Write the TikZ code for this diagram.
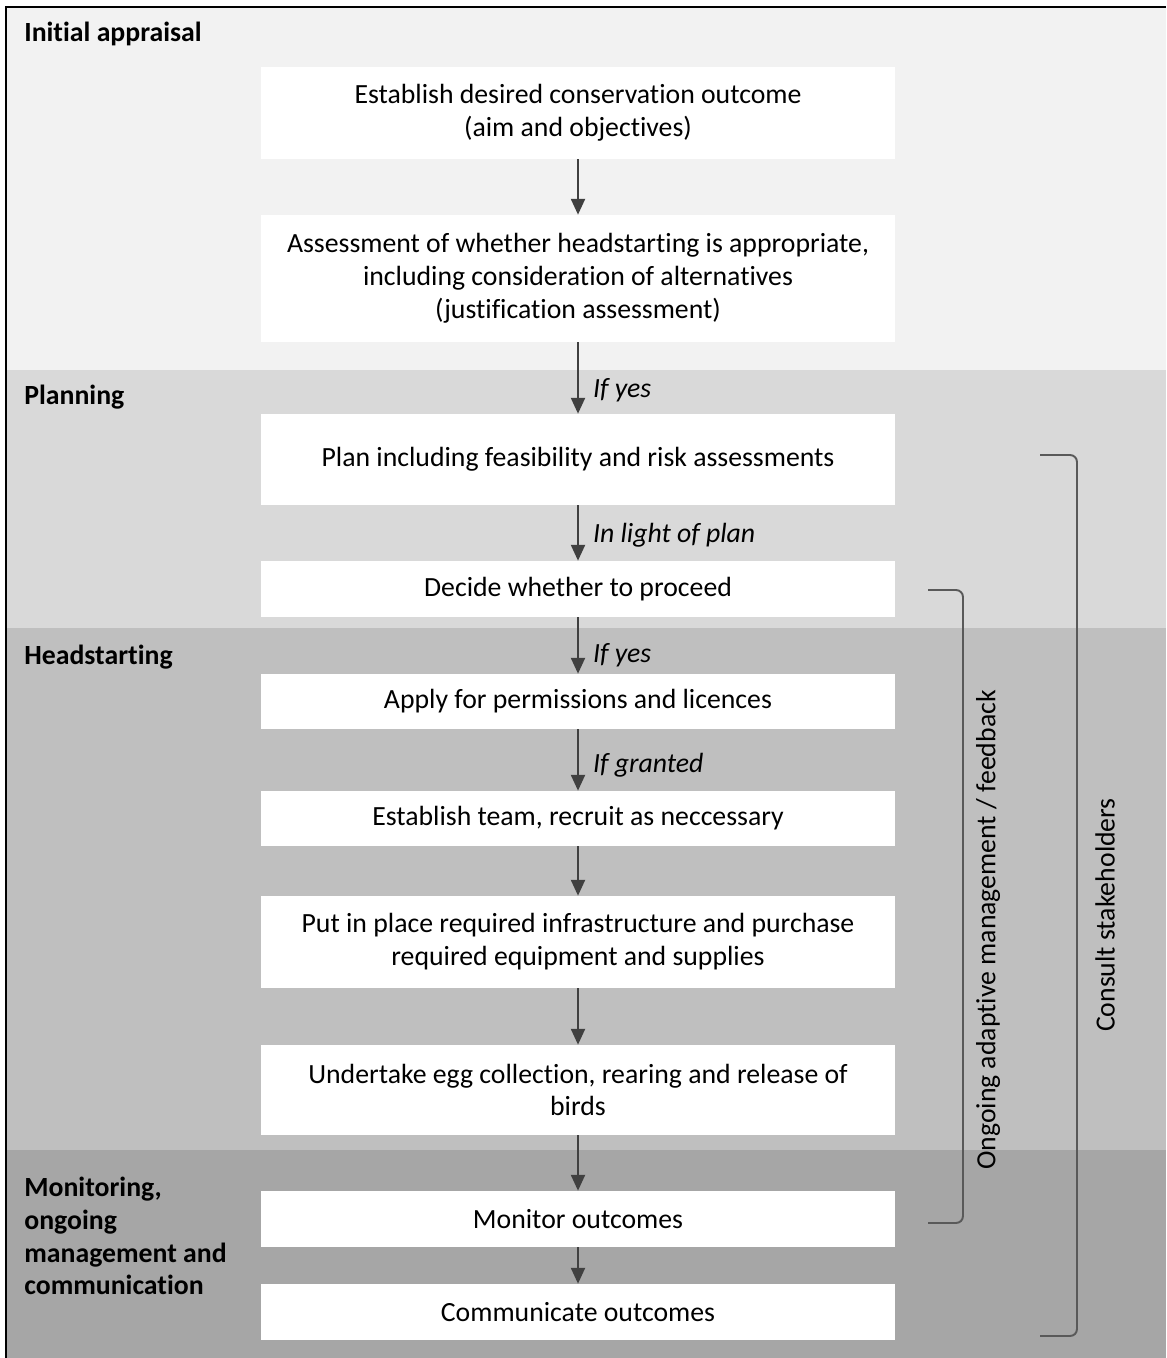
\documentclass[tikz,border=0pt]{standalone}
\usepackage{fontspec}
\setmainfont{Carlito}[Ligatures=NoCommon]
\usetikzlibrary{arrows.meta}
\definecolor{bandA}{HTML}{F2F2F2}
\definecolor{bandB}{HTML}{D9D9D9}
\definecolor{bandC}{HTML}{BFBFBF}
\definecolor{bandD}{HTML}{A6A6A6}
\definecolor{arrowgray}{HTML}{404040}
\definecolor{bracketgray}{HTML}{595959}
\newcommand{\txt}{\fontsize{15.8}{18.7}\selectfont}
\tikzset{
  stage/.style={fill=white, minimum width=12.68cm, align=center, inner sep=2pt, font=\txt},
  flow/.style={draw=arrowgray, line width=1.1pt, -{Triangle[width=8pt,length=9pt]}},
  cond/.style={right, inner sep=4pt, xshift=4pt, font=\txt\itshape},
  title/.style={anchor=west, align=left, inner sep=0pt, font=\txt\bfseries},
  bracket/.style={draw=bracketgray, line width=1.1pt, rounded corners=4pt},
  side/.style={rotate=90, font=\txt}
}
\begin{document}
\begin{tikzpicture}[x=0.02cm,y=-0.02cm]
  \useasboundingbox (0,0) rectangle (1166,1358);
  % bands
  \fill[bandA] (6,7) rectangle (1166,370);
  \fill[bandB] (6,370) rectangle (1166,628);
  \fill[bandC] (6,628) rectangle (1166,1150);
  \fill[bandD] (6,1150) rectangle (1166,1358);
  \draw[line width=1.2pt] (6,1358) -- (6,7) -- (1166,7);
  \node[title] (tInit) at (24,34) {Initial appraisal};
  \node[title] (tPlan) at (24,397) {Planning};
  \node[title] (tHead) at (24,657) {Headstarting};
  \node[title] (tMon) at (24,1236) {Monitoring,\\ongoing\\management and\\communication};
  % boxes
  \node[stage, minimum height=1.84cm] (aim) at (578,113) {Establish desired conservation outcome\\(aim and objectives)};
  \node[stage, minimum height=2.54cm] (just) at (578,278.5) {Assessment of whether headstarting is appropriate,\\including consideration of alternatives\\(justification assessment)};
  \node[stage, minimum height=1.82cm] (plan) at (578,459.5) {Plan including feasibility and risk assessments};
  \node[stage, minimum height=1.12cm] (decide) at (578,589) {Decide whether to proceed};
  \node[stage, minimum height=1.1cm] (apply) at (578,701.5) {Apply for permissions and licences};
  \node[stage, minimum height=1.1cm] (team) at (578,818.5) {Establish team, recruit as neccessary};
  \node[stage, minimum height=1.84cm] (infra) at (578,942) {Put in place required infrastructure and purchase\\required equipment and supplies};
  \node[stage, minimum height=1.8cm] (rear) at (578,1090) {Undertake egg collection, rearing and release of\\birds};
  \node[stage, minimum height=1.12cm] (monitor) at (578,1219) {Monitor outcomes};
  \node[stage, minimum height=1.12cm] (comm) at (578,1312) {Communicate outcomes};
  % arrows
  \draw[flow] (aim) -- (just);
  \draw[flow] (just) -- node[cond, pos=0.67] {If yes} (plan);
  \draw[flow] (plan) -- node[cond, pos=0.54] {In light of plan} (decide);
  \draw[flow] (decide) -- node[cond, pos=0.68] {If yes} (apply);
  \draw[flow] (apply) -- node[cond, pos=0.58] {If granted} (team);
  \draw[flow] (team) -- (infra);
  \draw[flow] (infra) -- (rear);
  \draw[flow] (rear) -- (monitor);
  \draw[flow] (monitor) -- (comm);
  % brackets
  \coordinate (fbTop) at (928,590);
  \coordinate (fbBot) at (928,1223);
  \coordinate (csTop) at (1040,455);
  \coordinate (csBot) at (1040,1336);
  \draw[bracket] (fbTop) -- (963,590) -- (963,1223) -- (fbBot);
  \draw[bracket] (csTop) -- (1077,455) -- (1077,1336) -- (csBot);
  \node[side] (fbLabel) at (988,930) {Ongoing adaptive management / feedback};
  \node[side] (csLabel) at (1105,915) {Consult stakeholders};
\end{tikzpicture}
\end{document}
